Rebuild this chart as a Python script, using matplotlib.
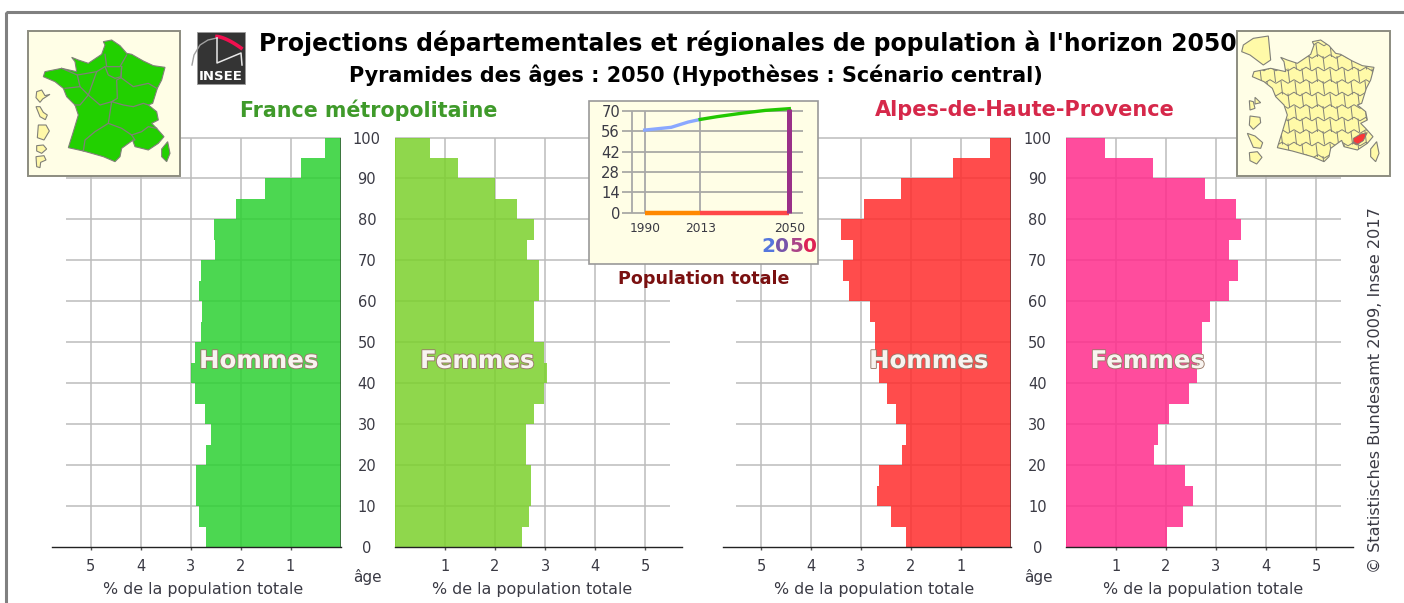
import numpy as np
import matplotlib
matplotlib.use('Agg')
import matplotlib.pyplot as plt
import matplotlib.patheffects as pe
from matplotlib.patches import Polygon, Rectangle

W, H = 1404, 603

age_bins = [0, 5, 10, 15, 20, 25, 30, 35, 40, 45, 50, 55, 60, 65, 70, 75, 80, 85, 90, 95]
age_ticks = [0, 10, 20, 30, 40, 50, 60, 70, 80, 90, 100]
pct_ticks = [1, 2, 3, 4, 5]

france_h = [2.70, 2.83, 2.89, 2.89, 2.70, 2.59, 2.72, 2.92, 2.99, 2.91,
            2.79, 2.77, 2.83, 2.79, 2.51, 2.53, 2.10, 1.52, 0.80, 0.32]
france_f = [2.53, 2.68, 2.72, 2.72, 2.62, 2.62, 2.77, 2.97, 3.03, 2.97,
            2.77, 2.77, 2.88, 2.88, 2.64, 2.77, 2.44, 2.00, 1.26, 0.70]
alpes_h = [2.10, 2.40, 2.68, 2.63, 2.17, 2.10, 2.29, 2.47, 2.63, 2.72,
           2.71, 2.81, 3.24, 3.35, 3.15, 3.39, 2.94, 2.20, 1.15, 0.42]
alpes_f = [2.02, 2.34, 2.53, 2.37, 1.76, 1.83, 2.06, 2.45, 2.62, 2.71,
           2.71, 2.88, 3.25, 3.43, 3.25, 3.49, 3.40, 2.77, 1.74, 0.77]

trend_years = [1990, 2001, 2008, 2013, 2020, 2030, 2040, 2050]
trend_pop = [56.7, 58.6, 62.2, 64.0, 65.9, 68.2, 70.2, 71.4]
inset_xticks = [1990, 2013, 2050]
inset_yticks = [0, 14, 28, 42, 56, 70]

# outlines traced in crop coordinates of the left map
mainland = [(250, 50), (275, 45), (300, 62), (320, 85), (335, 88), (370, 108), (400, 122), (435, 127),
            (425, 165), (412, 190), (398, 235), (385, 240), (410, 260), (415, 285), (395, 295), (410, 310),
            (432, 335), (415, 355), (385, 375), (345, 365), (338, 346), (305, 370), (300, 395), (285, 410),
            (250, 395), (215, 385), (190, 378), (145, 368), (160, 320), (175, 270), (165, 240), (140, 215),
            (130, 190), (105, 170), (70, 155), (75, 140), (125, 130), (170, 140), (165, 110), (155, 97),
            (175, 105), (205, 115), (245, 88), (255, 60)]
corsica = [(443, 350), (450, 385), (440, 410), (425, 395), (425, 372)]
region_lines = [
    [(255, 88), (260, 125), (300, 125), (320, 90)],
    [(255, 125), (265, 150), (285, 160), (303, 155), (305, 125)],
    [(305, 125), (303, 158), (340, 185), (385, 175), (410, 190)],
    [(303, 158), (290, 165), (292, 220), (275, 230), (310, 240), (340, 245), (370, 235), (385, 240)],
    [(255, 125), (230, 140), (205, 210), (240, 240), (275, 230), (265, 295), (225, 320), (195, 345), (190, 378)],
    [(125, 130), (172, 150), (180, 185), (135, 190)],
    [(172, 150), (230, 140)],
    [(180, 185), (205, 210), (180, 240), (165, 240)],
    [(265, 295), (305, 310), (335, 330), (345, 345), (338, 346)],
    [(335, 330), (365, 320), (385, 305), (410, 310)],
]
overseas = [
    [(50, 200), (65, 195), (75, 212), (90, 208), (68, 222), (60, 232), (48, 218)],
    [(48, 245), (60, 245), (70, 262), (82, 270), (76, 284), (60, 275)],
    [(55, 300), (78, 300), (88, 318), (72, 345), (52, 338)],
    [(50, 362), (70, 360), (80, 372), (65, 385), (50, 378)],
    [(48, 395), (72, 392), (78, 405), (62, 412), (60, 428), (50, 425)],
]
idf_islands = [[(130, 105), (160, 85), (205, 78), (212, 150), (190, 165), (150, 135), (125, 125)]]
right_overseas = [
    [(148, 272), (160, 275), (165, 295), (150, 300)],
    [(165, 262), (182, 278), (165, 282)],
    [(150, 318), (180, 322), (182, 338), (160, 358), (148, 345)],
    [(142, 370), (165, 378), (188, 398), (182, 415), (160, 412)],
    [(148, 428), (172, 425), (186, 442), (170, 462), (150, 452)],
]
alpes_dept = [(460, 385), (482, 372), (502, 368), (490, 392), (470, 405), (460, 400)]

fig = plt.figure(figsize=(W / 100, H / 100), dpi=100, facecolor='white')
BOX = '#fffee6'
TXT = '#3a3a44'
GRID = '#bcbcbc'


def px_axes(left, right, top, bottom):
    return fig.add_axes([left / W, 1 - bottom / H, (right - left) / W, (bottom - top) / H])


def pyramid(left, right, label_x, values, color, side, grid_end):
    ax = px_axes(left, right, 137.5, 547)
    span = abs(right - left) / 50.0
    if side == 'h':
        ax.set_xlim(span, 0)
    else:
        ax.set_xlim(0, span)
    ax.set_ylim(0, 100)
    ax.patch.set_alpha(0)
    ax.hlines(age_ticks[1:], 0, grid_end, color=GRID, lw=1.1, zorder=1, clip_on=False)
    ax.vlines(pct_ticks, 0, 100, color=GRID, lw=1.1, zorder=1, clip_on=False)
    ax.barh(age_bins, values, height=5, align='edge', color=color, alpha=0.85, lw=0, zorder=2)
    ax.axvline(0, color='#333333' if side == 'h' else color, lw=1.2, alpha=0.7, zorder=3)
    for s in ['left', 'right', 'top']:
        ax.spines[s].set_visible(False)
    ax.spines['bottom'].set_color('#222222')
    ax.spines['bottom'].set_linewidth(1.0)
    ax.set_xticks(pct_ticks)
    ax.set_xticklabels([str(t) for t in pct_ticks], fontsize=10.5, color=TXT)
    ax.tick_params(axis='x', length=2, width=1, color='#555555', pad=6.5)
    ax.set_xlabel('% de la population totale', fontsize=11.4, color=TXT, labelpad=6,
                  x=(label_x - left) / (right - left))
    if side == 'h':
        ax.yaxis.tick_right()
        ax.set_yticks(age_ticks)
        ax.set_yticklabels([str(a) for a in age_ticks], fontsize=10.5, color=TXT, ha='center')
        ax.tick_params(axis='y', length=0, pad=19)
    else:
        ax.set_yticks([])
    return ax


pyramid(52, 340.5, 203, france_h, '#2dd032', 'h', 5.5)
pyramid(395, 682, 532, france_f, '#7cd02d', 'f', 5.5)
pyramid(723, 1011, 874, alpes_h, '#ff2d2d', 'h', 5.5)
pyramid(1066, 1353, 1203, alpes_f, '#ff2d8c', 'f', 5.5)

# overlay in pixel coordinates for boxes, maps and titles
ov = fig.add_axes([0, 0, 1, 1], zorder=5)
ov.set_xlim(0, W)
ov.set_ylim(H, 0)
ov.axis('off')
ov.patch.set_alpha(0)

ov.add_patch(Rectangle((6, 11.5), W, H, fc='none', ec='#808080', lw=2.2))


def to_map(pts, dx):
    return [(dx + x / 3.0, 25 + y / 3.0) for x, y in pts]


def to_right(pts):
    return [(1200 + x / 3.0, 10 + y / 3.0) for x, y in pts]


MAP_EDGE = '#808078'
# left map
ov.add_patch(Rectangle((27.5, 30.5), 152.5, 145, fc=BOX, ec='#8c8c80', lw=1.4))
for poly in [mainland, corsica]:
    ov.add_patch(Polygon(to_map(poly, 20), fc='#22d000', ec=MAP_EDGE, lw=0.8))
for line in region_lines:
    pts = np.array(to_map(line, 20))
    ov.plot(pts[:, 0], pts[:, 1], color=MAP_EDGE, lw=0.9)
for poly in overseas:
    ov.add_patch(Polygon(to_map(poly, 20), fc='#fff8a8', ec=MAP_EDGE, lw=0.8))

# right map
ov.add_patch(Rectangle((1237, 30.5), 152.5, 145, fc=BOX, ec='#8c8c80', lw=1.4))
main_r = Polygon(to_map(mainland, 1229), fc='#fffaa8', ec=MAP_EDGE, lw=0.8)
ov.add_patch(main_r)
ov.add_patch(Polygon(to_map(corsica, 1229), fc='#fffaa8', ec=MAP_EDGE, lw=0.8))
for r, y in enumerate(np.arange(44, 168, 12.5)):
    xs = np.arange(1240, 1392, 6)
    ys = y + 1.8 * np.where(np.arange(len(xs)) % 2 == 0, 1, -1)
    ln, = ov.plot(xs, ys, color=MAP_EDGE, lw=0.7)
    ln.set_clip_path(main_r)
    for x in np.arange(1246 + 7 * (r % 2), 1392, 14):
        ln, = ov.plot([x, x + 1.5], [y, y + 12.5], color=MAP_EDGE, lw=0.7)
        ln.set_clip_path(main_r)
ov.add_patch(Polygon(to_right(alpes_dept), fc='#f83838', ec=MAP_EDGE, lw=0.6))
for poly in idf_islands + right_overseas:
    ov.add_patch(Polygon(to_right(poly), fc='#fffaa8', ec=MAP_EDGE, lw=0.8))

# INSEE logo
ov.add_patch(Rectangle((197, 32), 48, 52, fc='#343434', ec='#999999', lw=0.6))
t = np.linspace(0, 1, 30)
ov.plot(217 + 24 * t, 36.5 + 11.5 * t ** 1.5, color='#f0104f', lw=2.6)
ov.plot([192, 194, 200, 208, 217], [65, 55, 45, 40, 38], color='#a0a0a0', lw=1)
ov.plot([217, 217, 241, 242], [38, 63, 53, 65], color='#e8e8e8', lw=1.1)
ov.text(221, 77, 'INSEE', fontsize=9.5, fontweight='bold', color='white', ha='center', va='center')

# headings
ov.text(748, 43, "Projections départementales et régionales de population à l'horizon 2050",
        fontsize=16.95, fontweight='bold', color='black', ha='center', va='center')
ov.text(696, 75.5, "Pyramides des âges : 2050 (Hypothèses : Scénario central)",
        fontsize=14.95, fontweight='bold', color='black', ha='center', va='center')
ov.text(368.5, 110, 'France métropolitaine', fontsize=14.85, fontweight='bold', color='#3f9a2a',
        ha='center', va='center')
ov.text(1025, 110, 'Alpes-de-Haute-Provence', fontsize=15.05, fontweight='bold', color='#d6284a',
        ha='center', va='center')

outline = [pe.withStroke(linewidth=1.3, foreground='#9a7a6a')]
for x, label in [(258.5, 'Hommes'), (477, 'Femmes'), (928.5, 'Hommes'), (1147.5, 'Femmes')]:
    ov.text(x, 361, label, fontsize=17.6, fontweight='bold', color='#f8f4f0', ha='center', va='center',
            path_effects=outline)

for x in [367, 1038]:
    ov.text(x, 577, 'âge', fontsize=11, color=TXT, ha='center', va='center')

ov.text(1376, 390, '© Statistisches Bundesamt 2009, Insee 2017', fontsize=11.65, color=TXT,
        rotation=90, ha='center', va='center')

# inset box
ov.add_patch(Rectangle((588.5, 100.5), 229, 163, fc=BOX, ec='#999999', lw=1.2, zorder=1))
ins = fig.add_axes([632 / W, 1 - 212.7 / H, (803 - 632) / W, (212.7 - 110.7) / H], zorder=6)
x_per_year = (789.3 - 644.7) / 60.0
ins.set_xlim(1990 - (644.7 - 632) / x_per_year, 2050 + (803 - 789.3) / x_per_year)
ins.set_ylim(0, 70)
ins.patch.set_alpha(0)
for s in ins.spines.values():
    s.set_visible(False)
x0, x1 = ins.get_xlim()
ins.hlines(inset_yticks, x0 - 10 / x_per_year, x1, color='#9a9a9a', lw=1.1, zorder=1, clip_on=False)
ins.vlines([x0] + inset_xticks, 0, 70, color='#a8a8a8', lw=1.3, zorder=1, clip_on=False)
ins.set_xlim(x0, x1)
ins.plot(trend_years[:4], trend_pop[:4], color='#8aa8ff', lw=2.4, zorder=3, clip_on=False)
ins.plot(trend_years[3:], trend_pop[3:], color='#22c800', lw=2.4, zorder=3, clip_on=False)
ins.plot([1990, 2013], [0, 0], color='#ff8800', lw=3.2, zorder=3, clip_on=False, solid_capstyle='butt')
ins.plot([2013, 2050], [0, 0], color='#ff4848', lw=3.2, zorder=3, clip_on=False, solid_capstyle='butt')
ins.plot([2050, 2050], [0, trend_pop[-1]], color='#9a3088', lw=3.6, zorder=4, clip_on=False, solid_capstyle='butt')
ins.set_xticks(inset_xticks)
ins.set_xticklabels([str(y) for y in inset_xticks], fontsize=8.8, color=TXT)
ins.set_yticks(inset_yticks)
ins.set_yticklabels([str(y) for y in inset_yticks], fontsize=10.6, color=TXT)
ins.tick_params(axis='both', length=0)
ins.tick_params(axis='x', pad=7)
ins.tick_params(axis='y', pad=8.6)

for x, ch, col in zip([768, 782, 796, 810], '2050', ['#5577dd', '#7755aa', '#aa4488', '#dd2255']):
    ov.text(x, 246, ch, fontsize=14.4, fontweight='bold', color=col, ha='center', va='center', zorder=7)
ov.text(703.5, 278.5, 'Population totale', fontsize=12.6, fontweight='bold', color='#7a1010',
        ha='center', va='center')

fig.savefig('out.png', dpi=100)
